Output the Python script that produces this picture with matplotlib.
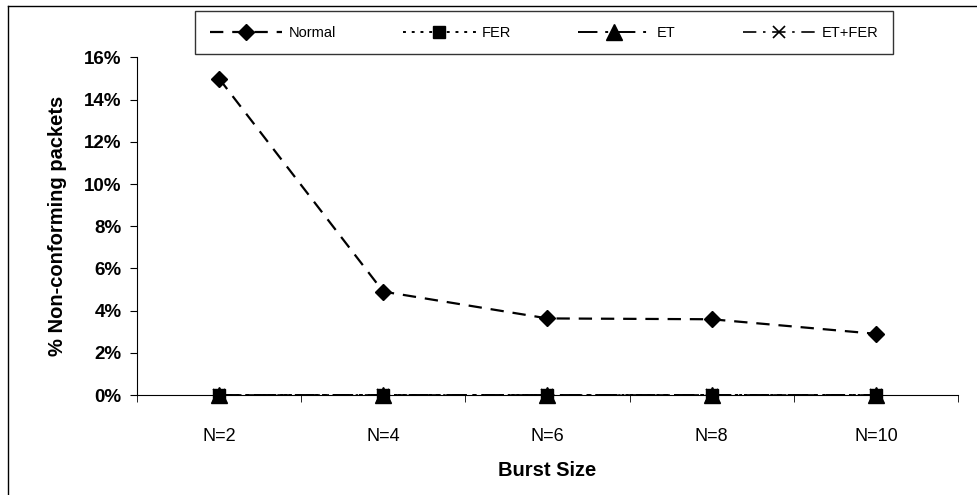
import numpy as np
import matplotlib.pyplot as plt
from matplotlib.lines import Line2D

plt.rcParams['font.family'] = ['Liberation Sans', 'DejaVu Sans']

# Data
burst_sizes = ['N=2', 'N=4', 'N=6', 'N=8', 'N=10']
normal = [15.0, 4.9, 3.63, 3.59, 2.9]
fer = [0.0, 0.0, 0.0, 0.0, 0.0]
et = [0.0, 0.0, 0.0, 0.0, 0.0]
et_fer = [0.0, 0.0, 0.0, 0.0, 0.0]
yticks = [0, 2, 4, 6, 8, 10, 12, 14, 16]

x = np.arange(len(burst_sizes))

fig = plt.figure(figsize=(9.78, 4.95), dpi=100)
ax = fig.add_axes([0.140, 0.202, 0.8396, 0.682])

# outer chart frame (left and top edges visible)
fig.add_artist(Line2D([0.008, 0.008], [0.0, 0.988], color='black', lw=1.0))
fig.add_artist(Line2D([0.008, 0.998], [0.988, 0.988], color='black', lw=1.0))

ax.plot(x, normal, color='black', lw=1.6, ls=(0, (6, 4)), marker='D', ms=8,
        label='Normal', clip_on=False)
ax.plot(x, fer, color='black', lw=1.4, ls=(0, (1.5, 3)), marker='s', ms=9,
        label='FER', clip_on=False)
ax.plot(x, et_fer, color='black', lw=1.2, ls=(0, (8, 4, 1.5, 4)), marker='x',
        ms=8, mew=1.2, label='ET+FER', clip_on=False)
ax.plot(x, et, color='black', lw=1.4, ls=(0, (10, 4, 1.5, 4)), marker='^',
        ms=11, label='ET', clip_on=False, zorder=4)

ax.set_xlim(-0.5, len(burst_sizes) - 0.5)
ax.set_ylim(0, 16)
ax.set_yticks(yticks)
ax.set_yticklabels([f'{v}%' for v in yticks], fontweight='bold', fontsize=13.5)
ax.set_xticks(x)
ax.set_xticklabels(burst_sizes, fontsize=13)
ax.set_xticks(np.arange(-0.5, len(burst_sizes)), minor=True)
ax.tick_params(axis='x', which='major', length=0, pad=24)
ax.tick_params(axis='x', which='minor', length=5, direction='out')
ax.tick_params(axis='y', length=5, direction='out', pad=6)

ax.spines['top'].set_visible(False)
ax.spines['right'].set_visible(False)

ax.set_xlabel('Burst Size', fontsize=14.5, fontweight='bold', labelpad=11)
ax.set_ylabel('% Non-conforming packets', fontsize=14.5, fontweight='bold',
              labelpad=12)

h, l = ax.get_legend_handles_labels()
order = [0, 1, 3, 2]
leg = fig.legend([h[i] for i in order], [l[i] for i in order], ncol=4,
                 loc='center', bbox_to_anchor=(0.556, 0.934),
                 frameon=True, fancybox=False, edgecolor='black',
                 fontsize=10.5, handlelength=5, handletextpad=0.4,
                 columnspacing=4.6, borderpad=1.0)
leg.get_frame().set_linewidth(1.0)

fig.savefig('out.png', dpi=100)
